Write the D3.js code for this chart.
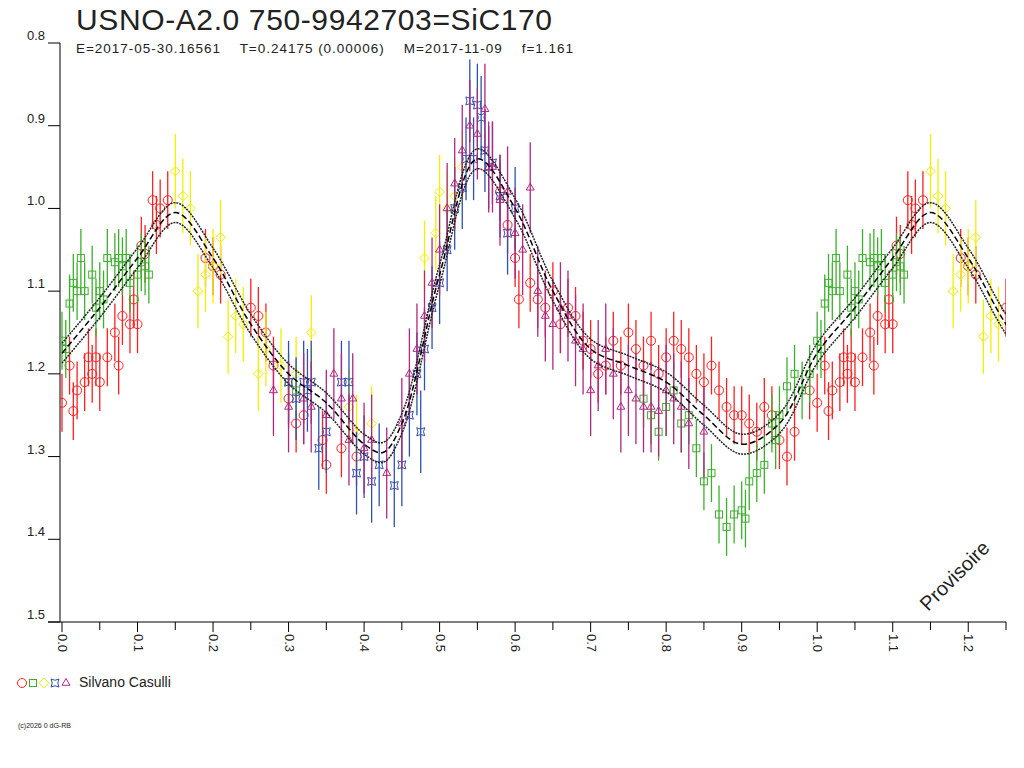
<!DOCTYPE html>
<html><head><meta charset="utf-8">
<script src="https://cdn.jsdelivr.net/npm/d3@7"></script>
<style>body{margin:0;background:#fff;font-family:"Liberation Sans",Arial,sans-serif}</style>
</head><body>
<script>
// phase, magnitude
var redCircles = [[0.0,1.235],[0.01,1.19],[0.015,1.245],[0.02,1.22],[0.03,1.21],[0.035,1.18],[0.04,1.2],[0.045,1.18],[0.05,1.21],[0.06,1.18],[0.07,1.15],[0.075,1.19],[0.08,1.13],[0.09,1.14],[0.095,1.11],[0.1,1.14],[0.105,1.045],[0.11,1.055],[0.12,0.99],[0.125,1.02],[0.13,1.0],[0.14,0.99],[0.19,1.06],[0.2,1.07],[0.21,1.08],[0.25,1.12],[0.26,1.13],[0.27,1.15],[0.28,1.19],[0.3,1.23],[0.31,1.26],[0.32,1.25],[0.345,1.28],[0.35,1.31],[0.37,1.29],[0.39,1.3],[0.58,0.98],[0.59,1.02],[0.6,1.06],[0.605,1.11],[0.62,1.09],[0.63,1.11],[0.64,1.12],[0.65,1.1],[0.66,1.14],[0.67,1.12],[0.68,1.13],[0.69,1.16],[0.7,1.17],[0.71,1.2],[0.72,1.19],[0.73,1.16],[0.74,1.19],[0.75,1.15],[0.76,1.17],[0.77,1.19],[0.78,1.16],[0.79,1.2],[0.8,1.18],[0.81,1.16],[0.82,1.17],[0.83,1.18],[0.84,1.2],[0.85,1.21],[0.86,1.19],[0.87,1.22],[0.88,1.24],[0.89,1.25],[0.9,1.25],[0.91,1.26],[0.92,1.27],[0.93,1.24],[0.94,1.25],[0.95,1.28],[0.96,1.3],[0.97,1.27],[0.99,1.22]];
var greenSquares = [[0.0,1.16],[0.005,1.17],[0.01,1.115],[0.015,1.09],[0.02,1.1],[0.025,1.06],[0.03,1.1],[0.04,1.08],[0.045,1.12],[0.05,1.1],[0.055,1.11],[0.06,1.06],[0.07,1.065],[0.075,1.06],[0.08,1.07],[0.085,1.06],[0.09,1.09],[0.1,1.08],[0.105,1.065],[0.11,1.07],[0.115,1.08],[0.3,1.21],[0.31,1.22],[0.77,1.23],[0.78,1.25],[0.79,1.27],[0.8,1.24],[0.81,1.22],[0.82,1.26],[0.83,1.25],[0.84,1.29],[0.85,1.33],[0.86,1.32],[0.87,1.37],[0.88,1.385],[0.89,1.37],[0.9,1.365],[0.905,1.375],[0.91,1.33],[0.92,1.32],[0.93,1.31],[0.94,1.26],[0.945,1.28],[0.95,1.25],[0.96,1.215],[0.97,1.2],[0.98,1.22],[0.99,1.2]];
var yellowDiamonds = [[0.15,0.955],[0.16,0.985],[0.17,1.0],[0.18,1.1],[0.19,1.08],[0.2,1.07],[0.21,1.035],[0.22,1.155],[0.23,1.13],[0.24,1.14],[0.26,1.2],[0.27,1.17],[0.29,1.19],[0.31,1.2],[0.33,1.15],[0.38,1.24],[0.39,1.27],[0.41,1.26],[0.48,1.06],[0.495,1.03],[0.5,0.98],[0.51,1.0],[0.52,0.985],[0.53,0.95]];
var blueStars = [[0.3,1.21],[0.31,1.23],[0.32,1.21],[0.325,1.22],[0.33,1.21],[0.34,1.29],[0.35,1.27],[0.37,1.21],[0.38,1.21],[0.39,1.32],[0.4,1.3],[0.41,1.33],[0.42,1.31],[0.44,1.335],[0.45,1.31],[0.46,1.25],[0.47,1.2],[0.475,1.27],[0.48,1.17],[0.49,1.12],[0.5,1.09],[0.51,1.05],[0.52,1.0],[0.53,0.975],[0.535,0.94],[0.54,0.87],[0.545,0.94],[0.55,0.875],[0.555,0.89],[0.56,0.93],[0.565,0.95],[0.57,0.945],[0.58,0.985],[0.59,1.03],[0.6,1.0]];
var purpleTriangles = [[0.28,1.22],[0.3,1.24],[0.32,1.23],[0.33,1.24],[0.35,1.25],[0.36,1.2],[0.37,1.23],[0.38,1.28],[0.385,1.23],[0.4,1.29],[0.41,1.28],[0.43,1.32],[0.45,1.26],[0.46,1.2],[0.47,1.17],[0.48,1.13],[0.49,1.09],[0.5,1.05],[0.51,1.0],[0.52,0.97],[0.53,0.93],[0.54,0.9],[0.55,0.91],[0.56,0.88],[0.565,0.95],[0.57,0.95],[0.58,0.99],[0.59,0.98],[0.6,1.03],[0.61,1.05],[0.62,0.975],[0.63,1.1],[0.64,1.13],[0.65,1.14],[0.66,1.12],[0.67,1.13],[0.68,1.16],[0.69,1.17],[0.7,1.22],[0.71,1.19],[0.72,1.17],[0.73,1.2],[0.74,1.24],[0.75,1.22],[0.76,1.23],[0.77,1.24],[0.78,1.24],[0.79,1.245],[0.8,1.22],[0.81,1.23],[0.82,1.24],[0.83,1.26],[0.85,1.27]];
var seriesErr = [0.035, 0.035, 0.045, 0.05, 0.055];
var fitPhase = [0,0.05,0.1,0.15,0.2,0.25,0.3,0.35,0.4,0.425,0.45,0.5,0.55,0.6,0.65,0.7,0.75,0.8,0.85,0.9,0.95,1.0];
var fitMag = [1.175,1.12,1.06,1.005,1.06,1.14,1.2,1.235,1.285,1.295,1.26,1.08,0.94,1.0,1.1,1.17,1.19,1.21,1.25,1.285,1.26,1.175];
var fitBand = 0.012;
var yTicks = [0.8,0.9,1.0,1.1,1.2,1.3,1.4,1.5];

var svg = d3.select("body").append("svg").attr("width",1024).attr("height",768);
var x = d3.scaleLinear().domain([0,1.25]).range([62,1006]);
var y = d3.scaleLinear().domain([0.8,1.5]).range([43,622]);

svg.append("text").attr("x",76).attr("y",30).attr("font-size",30).attr("fill","#222").attr("textLength",476).text("USNO-A2.0 750-9942703=SiC170");
svg.append("text").attr("x",76).attr("y",53).attr("font-size",13.5).attr("fill","#222").attr("xml:space","preserve").attr("textLength",497)
  .text("E=2017-05-30.16561    T=0.24175 (0.00006)    M=2017-11-09    f=1.161");

// axes
var ax = svg.append("g").attr("stroke","#000").attr("fill","none");
ax.append("line").attr("x1",60).attr("x2",60).attr("y1",43).attr("y2",622);
ax.append("line").attr("x1",48).attr("x2",1006).attr("y1",622).attr("y2",622);
yTicks.forEach(function (t) {
  ax.append("line").attr("x1",48).attr("x2",60).attr("y1",y(t)).attr("y2",y(t));
  svg.append("text").attr("x",45).attr("y",y(t)-3).attr("text-anchor","end").attr("font-size",13).attr("fill","#222").text(t.toFixed(1));
});
d3.range(0,26).forEach(function (i) {
  var p = i*0.05, major = i%2===0;
  ax.append("line").attr("x1",x(p)).attr("x2",x(p)).attr("y1",622).attr("y2",major?632:630);
  if (major) svg.append("text").attr("transform","translate("+(x(p)-4)+",634) rotate(90)")
    .attr("font-size",13).attr("fill","#222").text((i/20).toFixed(1));
});

// fit curves, repeated past phase 1
var fit = [];
fitPhase.forEach(function (p,i) { fit.push([p,fitMag[i]]); });
fitPhase.forEach(function (p,i) { if (p>0 && p<=0.3) fit.push([p+1,fitMag[i]]); });
var line = d3.line().curve(d3.curveCatmullRom).x(function(d){return x(d[0]);}).y(function(d){return y(d[1]);});
svg.append("clipPath").attr("id","c").append("rect").attr("x",60).attr("y",43).attr("width",946).attr("height",579);

var plot = svg.append("g").attr("clip-path","url(#c)");
var series = [
  {data: redCircles, color: "#ff2020", shape: "circle"},
  {data: greenSquares, color: "#3cb02c", shape: "square"},
  {data: yellowDiamonds, color: "#f0f000", shape: "diamond"},
  {data: blueStars, color: "#3050b0", shape: "star"},
  {data: purpleTriangles, color: "#b02880", shape: "triangle"}
];
function marker(g, shape, cx, cy, col) {
  if (shape==="circle") g.append("circle").attr("cx",cx).attr("cy",cy).attr("r",4.5).attr("fill","none").attr("stroke",col);
  if (shape==="square") g.append("rect").attr("x",cx-3.5).attr("y",cy-3.5).attr("width",7).attr("height",7).attr("fill","none").attr("stroke",col);
  if (shape==="diamond") g.append("path").attr("d",d3.symbol(d3.symbolDiamond2,60)()).attr("transform","translate("+cx+","+cy+")").attr("fill","none").attr("stroke",col);
  if (shape==="star") g.append("path").attr("d","M-4,-4Q0,-1.5 4,-4Q1.5,0 4,4Q0,1.5 -4,4Q-1.5,0 -4,-4Z").attr("transform","translate("+cx+","+cy+")").attr("fill","none").attr("stroke",col);
  if (shape==="triangle") g.append("path").attr("d",d3.symbol(d3.symbolTriangle2,45)()).attr("transform","translate("+cx+","+cy+")").attr("fill","none").attr("stroke",col);
}
series.forEach(function (s, si) {
  var pts = s.data.slice();
  s.data.forEach(function (d) { if (d[0] <= 0.26) pts.push([d[0]+1, d[1]]); });
  pts.forEach(function (d) {
    plot.append("line").attr("x1",x(d[0])).attr("x2",x(d[0])).attr("y1",y(d[1]-seriesErr[si])).attr("y2",y(d[1]+seriesErr[si]))
      .attr("stroke",s.color).attr("stroke-width",1.3);
  });
  pts.forEach(function (d) { marker(plot, s.shape, x(d[0]), y(d[1]), s.color); });
});

[-fitBand, fitBand].forEach(function (o) {
  plot.append("path").datum(fit.map(function(d){return [d[0],d[1]+o];})).attr("d",line)
    .attr("fill","none").attr("stroke","#222").attr("stroke-width",1.5).attr("stroke-dasharray","2,1");
});
plot.append("path").datum(fit).attr("d",line).attr("fill","none").attr("stroke","#000").attr("stroke-width",1.5).attr("stroke-dasharray","6,3");

svg.append("text").attr("transform","translate(928,612) rotate(-45)").attr("font-size",20).attr("fill","#222").text("Provisoire");

// legend
series.forEach(function (s, i) { marker(svg, s.shape, 22+i*11, 683, s.color); });
svg.append("text").attr("x",79).attr("y",687).attr("font-size",14).attr("fill","#222").text("Silvano Casulli");
svg.append("text").attr("x",18).attr("y",728).attr("font-size",7).attr("fill","#222").text("(c)2026 0 dG-RB");
</script>
</body></html>
